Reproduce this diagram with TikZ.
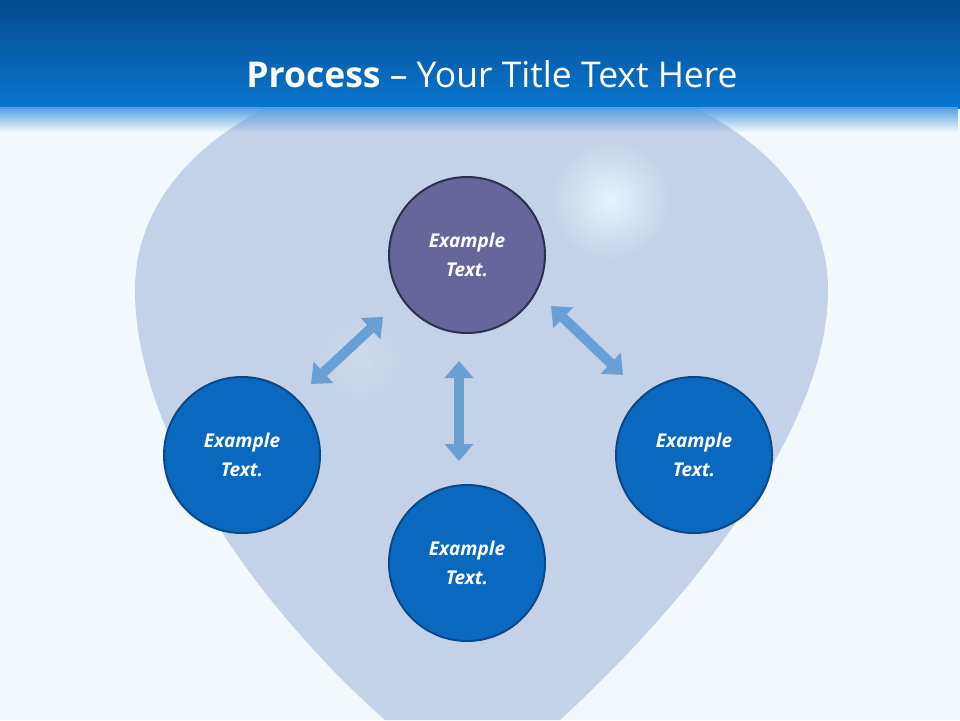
\documentclass[tikz,border=0pt]{standalone}
\usepackage{fontspec}
\setmainfont{Open Sans}
\usetikzlibrary{arrows.meta,fadings}
\definecolor{bg}{HTML}{F3F8FD}
\definecolor{hdtop}{HTML}{034A8E}
\definecolor{hdbot}{HTML}{0A76CF}
\definecolor{balloon}{HTML}{C3D2E8}
\definecolor{glow}{HTML}{E4F4FF}
\definecolor{purp}{HTML}{67669A}
\definecolor{purpb}{HTML}{2E3050}
\definecolor{blu}{HTML}{0A69BE}
\definecolor{blub}{HTML}{0B4888}
\definecolor{arr}{HTML}{6A9FD4}
\tikzset{
 circ/.style={circle,minimum size=156pt,line width=2pt,text=white,font=\bfseries\itshape\fontsize{19}{29}\selectfont,align=center},
 dbl/.style={arr,line width=10pt,{Triangle[length=17pt,width=28pt]}-{Triangle[length=17pt,width=28pt]}}
}
\begin{document}
\begin{tikzpicture}[x=1pt,y=-1pt]
\useasboundingbox (0,0) rectangle (960,720);
\fill[bg] (0,0) rectangle (960,720);
\fill[balloon] (385,720) .. controls (250,600) and (135,430) .. (135,290)
  .. controls (135,150) and (300,60) .. (480,60)
  .. controls (660,60) and (828,150) .. (828,290)
  .. controls (828,430) and (690,600) .. (560,720) -- cycle;
\shade[inner color=glow, outer color=balloon] (610,200) circle (60);
\shade[inner color=balloon!80!white, outer color=balloon] (360,360) circle (45);
\fill[top color=hdtop,bottom color=hdbot] (0,0) rectangle (960,108);
\fill[hdbot!70!white,path fading=south] (0,107) rectangle (960,132);
\node[text=white,font=\fontsize{35.5}{40}\selectfont] (title) at (492,74) {\textbf{Process} – Your Title Text Here};
\node[circ,fill=purp,draw=purpb] (c1) at (467,255) {Example\\Text.};
\node[circ,fill=blu,draw=blub] (c2) at (242,455) {Example\\Text.};
\node[circ,fill=blu,draw=blub] (c3) at (467,563) {Example\\Text.};
\node[circ,fill=blu,draw=blub] (c4) at (694,455) {Example\\Text.};
\coordinate (a1) at (311,384); \coordinate (a2) at (383,317);
\coordinate (b1) at (459,361); \coordinate (b2) at (459,461);
\coordinate (d1) at (551,306); \coordinate (d2) at (623,375);
\draw[dbl] (a1) -- (a2);
\draw[dbl] (b1) -- (b2);
\draw[dbl] (d1) -- (d2);
\end{tikzpicture}
\end{document}
